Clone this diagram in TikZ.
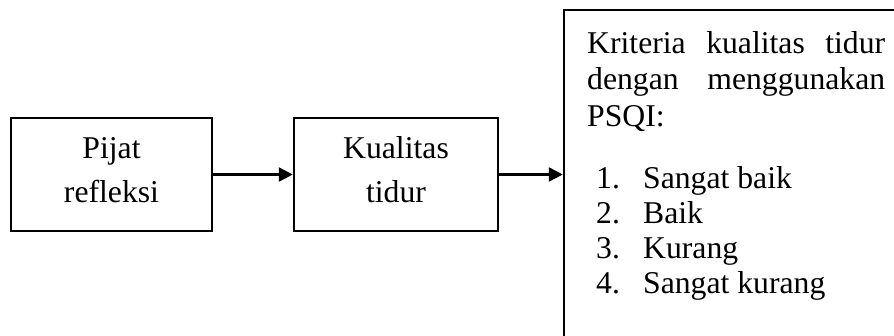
\documentclass[tikz,border=0pt]{standalone}
\usepackage{fontspec}
\setmainfont{Liberation Serif}
\usetikzlibrary{arrows.meta}
\begin{document}
\begin{tikzpicture}[x=1pt,y=-1pt,
  boxstyle/.style={draw=black, line width=2.5pt, fill=white, inner sep=0pt},
  txt/.style={anchor=base, inner sep=0pt, font=\fontsize{31.7}{36}\selectfont},
  ltxt/.style={anchor=base west, inner sep=0pt, font=\fontsize{31.7}{36}\selectfont},
  conn/.style={line width=2.5pt, -{Triangle[length=14pt,width=14pt]}}]
\useasboundingbox (0,0) rectangle (894,335);
\clip (0,0) rectangle (894,335);
\fill[white] (0,0) rectangle (894,335);
% boxes
\node[boxstyle, minimum width=201pt, minimum height=113pt] (pijat) at (111.5,174.5) {};
\node[boxstyle, minimum width=204pt, minimum height=113pt] (kual) at (396,174.5) {};
\node[boxstyle, minimum width=346pt, minimum height=340pt] (crit) at (737,180) {};
% texts
\node[txt] (p1) at (111.5,158) {Pijat};
\node[txt] (p2) at (111.5,202) {refleksi};
\node[txt] (k1) at (396,158) {Kualitas};
\node[txt] (k2) at (396,202) {tidur};
\node[ltxt] (h1) at (587,53) {\makebox[298pt][l]{Kriteria\hfill kualitas\hfill tidur}};
\node[ltxt] (h2) at (587,89.5) {\makebox[298pt][l]{dengan\hfill menggunakan}};
\node[ltxt] (h3) at (587,126) {PSQI:};
\node[ltxt] (i1) at (596,188) {\makebox[47pt][l]{1.}Sangat baik};
\node[ltxt] (i2) at (596,223) {\makebox[47pt][l]{2.}Baik};
\node[ltxt] (i3) at (596,258) {\makebox[47pt][l]{3.}Kurang};
\node[ltxt] (i4) at (596,293) {\makebox[47pt][l]{4.}Sangat kurang};
% connectors
\draw[conn] (pijat.east) -- (kual.west);
\draw[conn] (kual.east) -- (kual.east -| crit.west);
\end{tikzpicture}
\end{document}
